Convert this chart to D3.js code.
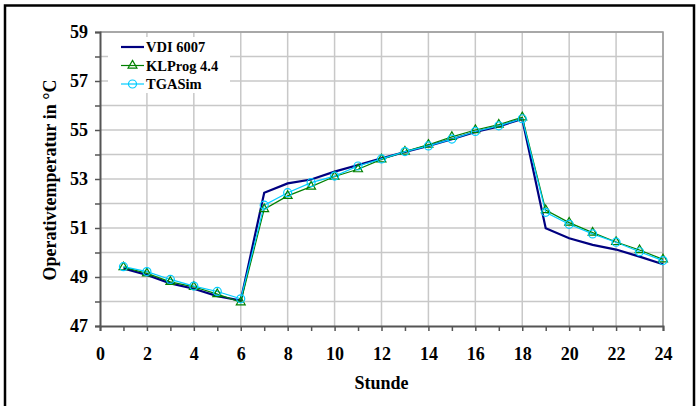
<!DOCTYPE html>
<html><head><meta charset="utf-8">
<script src="https://cdn.jsdelivr.net/npm/d3@7"></script>
<style>body{margin:0;background:#fff;} svg{display:block;}</style>
</head><body>
<svg id="c" width="699" height="406"></svg>
<script>
const hours = [1,2,3,4,5,6,7,8,9,10,11,12,13,14,15,16,17,18,19,20,21,22,23,24];
const vdi6007 = [49.35,49.08,48.74,48.52,48.22,48.04,52.44,52.82,52.98,53.3,53.57,53.84,54.1,54.35,54.62,54.92,55.15,55.45,50.99,50.58,50.31,50.12,49.83,49.52];
const klprog = [49.4,49.15,48.8,48.6,48.3,47.97,51.77,52.31,52.69,53.1,53.4,53.8,54.12,54.4,54.72,55.0,55.22,55.52,51.73,51.22,50.81,50.43,50.1,49.72];
const tgasim = [49.42,49.22,48.9,48.63,48.41,48.11,51.93,52.44,52.85,53.12,53.53,53.82,54.12,54.35,54.63,54.94,55.17,55.46,51.64,51.15,50.76,50.42,50.03,49.67];
const xTickLabels = [0,2,4,6,8,10,12,14,16,18,20,22,24];
const yTickLabels = [47,49,51,53,55,57,59];
const seriesNames = ["VDI 6007","KLProg 4.4","TGASim"];

const FONT = '"Liberation Serif", "Times New Roman", serif';
const svg = d3.select("#c");
const L=100, R=663, T=32, B=326;
const x = d3.scaleLinear().domain([0,24]).range([L,R]);
const y = d3.scaleLinear().domain([47,59]).range([B,T]);

function txt(sel, size){ return sel.style("font-family",FONT).style("font-weight","bold").style("font-size",size+"px").attr("fill","#000"); }

svg.append("rect").attr("x",5).attr("y",5.5).attr("width",689).attr("height",420)
  .attr("fill","none").attr("stroke","#000").attr("stroke-width",2.5);

const g = svg.append("g");
g.selectAll("line.h").data(d3.range(48,60)).enter().append("line")
  .attr("x1",L).attr("x2",R).attr("y1",d=>y(d)).attr("y2",d=>y(d))
  .attr("stroke","#c8c8c8").attr("stroke-width",1.5);
g.selectAll("line.v").data(d3.range(2,25,2)).enter().append("line")
  .attr("y1",T).attr("y2",B).attr("x1",d=>x(d)).attr("x2",d=>x(d))
  .attr("stroke","#c8c8c8").attr("stroke-width",1.5);
svg.append("path").attr("d",`M${L},${T}H${R}V${B}`).attr("fill","none").attr("stroke","#999").attr("stroke-width",1.5);

const yAxis = d3.axisLeft(y).tickValues(d3.range(47,60)).tickSize(5).tickFormat(d=> yTickLabels.includes(d)? d : "");
const ya = svg.append("g").attr("transform",`translate(${L},0)`).call(yAxis);
ya.select(".domain").attr("stroke","#555").attr("stroke-width",2);
ya.selectAll(".tick line").attr("stroke","#555").attr("stroke-width",1.5);
txt(ya.selectAll(".tick text"),18).attr("x",-12);

const xAxis = d3.axisBottom(x).tickValues(d3.range(0,25)).tickSize(5).tickFormat(d=> xTickLabels.includes(d)? d : "");
const xa = svg.append("g").attr("transform",`translate(0,${B})`).call(xAxis);
xa.select(".domain").attr("stroke","#555").attr("stroke-width",2);
xa.selectAll(".tick line").attr("stroke","#555").attr("stroke-width",1.5);
txt(xa.selectAll(".tick text"),18).attr("y",21);

txt(svg.append("text").attr("x",(L+R)/2).attr("y",389).attr("text-anchor","middle"),18).text("Stunde");
txt(svg.append("text").attr("transform","translate(56,180) rotate(-90)").attr("text-anchor","middle"),18).text("Operativtemperatur in °C");

const line = d3.line().x((d,i)=>x(hours[i])).y(d=>y(d));
svg.append("path").datum(vdi6007).attr("d",line).attr("fill","none").attr("stroke","#000080").attr("stroke-width",2.2);
svg.append("path").datum(klprog).attr("d",line).attr("fill","none").attr("stroke","#008000").attr("stroke-width",1.2);
svg.append("path").datum(tgasim).attr("d",line).attr("fill","none").attr("stroke","#00ccff").attr("stroke-width",1.2);

const tri = d3.symbol().type(d3.symbolTriangle).size(34);
svg.append("g").selectAll("path").data(klprog).enter().append("path")
  .attr("d",tri).attr("transform",(d,i)=>`translate(${x(hours[i])},${y(d)})`)
  .attr("fill","none").attr("stroke","#008000").attr("stroke-width",1.2);
svg.append("g").selectAll("circle").data(tgasim).enter().append("circle")
  .attr("cx",(d,i)=>x(hours[i])).attr("cy",d=>y(d)).attr("r",4)
  .attr("fill","none").attr("stroke","#00ccff").attr("stroke-width",1.2);

const lg = svg.append("g");
lg.append("rect").attr("x",108).attr("y",37).attr("width",122).attr("height",56).attr("fill","#fff");
const ly = [47,65.5,84];
const lcol = ["#000080","#008000","#00ccff"];
seriesNames.forEach((n,i)=>{
  lg.append("line").attr("x1",121).attr("x2",144).attr("y1",ly[i]).attr("y2",ly[i])
    .attr("stroke",lcol[i]).attr("stroke-width",i===0?2.2:1.2);
  if(i===1) lg.append("path").attr("d",tri).attr("transform",`translate(132.5,${ly[i]})`).attr("fill","none").attr("stroke",lcol[i]).attr("stroke-width",1.2);
  if(i===2) lg.append("circle").attr("cx",132.5).attr("cy",ly[i]).attr("r",4).attr("fill","none").attr("stroke",lcol[i]).attr("stroke-width",1.2);
  txt(lg.append("text").attr("x",146).attr("y",ly[i]+5),14.5).text(n);
});
</script>
</body></html>
